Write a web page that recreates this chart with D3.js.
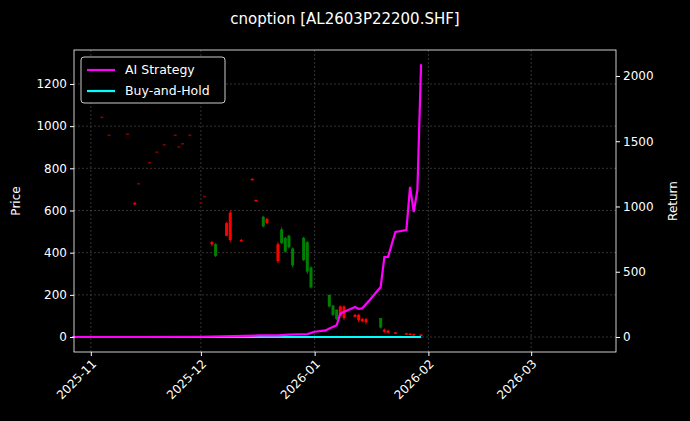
<!DOCTYPE html>
<html><head><meta charset="utf-8">
<script src="https://cdn.jsdelivr.net/npm/d3@7"></script>
<style>
body { margin: 0; background: #000; }
text { font-family: "DejaVu Sans", sans-serif; }
</style></head>
<body><div id="chart"></div>
<script>
const W = 690, H = 421
const m = { left: 74, right: 74, top: 50, bottom: 69 }

// candles: date, open, high, low, close
const candleDates = ['2025-11-04','2025-11-06','2025-11-11','2025-11-13','2025-11-14','2025-11-17','2025-11-19','2025-11-21','2025-11-24','2025-11-25','2025-11-26','2025-11-28','2025-12-01','2025-12-02','2025-12-04','2025-12-05','2025-12-08','2025-12-09','2025-12-12','2025-12-15','2025-12-16','2025-12-18','2025-12-19','2025-12-22','2025-12-23','2025-12-24','2025-12-25','2025-12-26','2025-12-29','2025-12-30','2025-12-31','2026-01-05','2026-01-06','2026-01-07','2026-01-08','2026-01-09','2026-01-12','2026-01-13','2026-01-14','2026-01-15','2026-01-19','2026-01-20','2026-01-21','2026-01-23','2026-01-26','2026-01-27','2026-01-28','2026-01-30']
const candleOpen  = [1045,960,965,635,730,830,880,915,960,905,920,960,640,670,440,440,480,460,460,750,650,570,540,360,510,470,480,420,470,450,330,200,150,130,100,90,95,80,75,70,90,25,20,18,12,10,8,6]
const candleHigh  = [1045,960,965,640,730,830,880,915,960,905,920,960,640,670,455,445,545,600,465,752,652,575,565,450,520,475,485,425,475,455,335,200,150,130,150,150,110,110,90,90,90,40,35,24,20,18,16,14]
const candleLow   = [1045,960,965,630,730,830,880,915,960,905,920,960,640,670,430,380,480,450,455,748,648,520,535,350,440,400,420,330,360,300,230,140,100,80,100,80,95,70,70,60,40,20,20,18,12,10,8,6]
const candleClose = [1045,960,965,635,730,830,880,915,960,905,920,960,640,670,450,385,540,590,460,750,650,525,560,440,445,405,425,340,365,310,235,145,105,85,145,145,105,105,85,85,45,35,30,22,18,16,14,12]

// strategy returns
const retDates = ['2025-10-27','2025-11-15','2025-12-01','2025-12-10','2025-12-17','2025-12-22','2025-12-25','2025-12-30','2026-01-01','2026-01-04','2026-01-05','2026-01-07','2026-01-08','2026-01-12','2026-01-13','2026-01-14','2026-01-16','2026-01-19','2026-01-20','2026-01-21','2026-01-23','2026-01-26','2026-01-27','2026-01-28','2026-01-29','2026-01-30']
const aiReturn  = [0,0,2,6,12,12,18,22,40,50,65,90,180,230,215,220,283,383,613,613,805,820,1150,958,1126,2090]
const bhDates = ['2025-10-27','2026-01-30']
const bhReturn = [0,0]

const priceTicks = [0,200,400,600,800,1000,1200]
const returnTicks = [0,500,1000,1500,2000]
const dateTicks = ['2025-11-01','2025-12-01','2026-01-01','2026-02-01','2026-03-01']

const parse = d3.timeParse('%Y-%m-%d')
const iw = W - m.left - m.right, ih = H - m.top - m.bottom

const svg = d3.select('#chart').append('svg').attr('width', W).attr('height', H)
svg.append('rect').attr('width', W).attr('height', H).attr('fill', '#000')
const g = svg.append('g').attr('transform', `translate(${m.left},${m.top})`)

const x = d3.scaleTime().domain([new Date(2025, 9, 27, 10), new Date(2026, 2, 24, 3)]).range([0, iw])
const y = d3.scaleLinear().domain([-71, 1361]).range([ih, 0])
const y2 = d3.scaleLinear().domain([-115, 2199]).range([ih, 0])

// grid
g.append('g').selectAll('line').data(dateTicks).join('line')
  .attr('x1', d => x(parse(d))).attr('x2', d => x(parse(d))).attr('y1', 0).attr('y2', ih)
  .attr('stroke', '#555').attr('stroke-dasharray', '2,2').attr('stroke-width', 0.6)
g.append('g').selectAll('line').data(priceTicks).join('line')
  .attr('x1', 0).attr('x2', iw).attr('y1', d => y(d)).attr('y2', d => y(d))
  .attr('stroke', '#555').attr('stroke-dasharray', '2,2').attr('stroke-width', 0.6)

// candles
const candles = candleDates.map((d, i) => ({ date: parse(d), o: candleOpen[i], h: candleHigh[i], l: candleLow[i], c: candleClose[i] }))
const cg = g.append('g')
candles.forEach(d => {
  const flat = d.o === d.c && d.h === d.l
  const col = flat ? '#8b0000' : (d.c >= d.o ? 'red' : 'green')
  const cx = x(d.date)
  cg.append('line').attr('x1', cx).attr('x2', cx).attr('y1', y(d.h)).attr('y2', y(d.l))
    .attr('stroke', col).attr('stroke-width', 1)
  const top = y(Math.max(d.o, d.c)), bot = y(Math.min(d.o, d.c))
  cg.append('rect').attr('x', cx - 1.5).attr('width', 3)
    .attr('y', top).attr('height', Math.max(1.5, bot - top)).attr('fill', col)
})

// lines
const line = d3.line().x(d => x(d[0])).y(d => y2(d[1]))
g.append('path').datum(bhDates.map((d, i) => [parse(d), bhReturn[i]]))
  .attr('d', line).attr('fill', 'none').attr('stroke', '#00ffff').attr('stroke-width', 2.2)
g.append('path').datum(retDates.map((d, i) => [parse(d), aiReturn[i]]))
  .attr('d', line).attr('fill', 'none').attr('stroke', '#ff00ff').attr('stroke-width', 2.2)

// frame
g.append('rect').attr('width', iw).attr('height', ih).attr('fill', 'none').attr('stroke', '#fff').attr('stroke-width', 0.8)

// axes
const ax = g.append('g').attr('transform', `translate(0,${ih})`)
  .call(d3.axisBottom(x).tickValues(dateTicks.map(parse)).tickFormat(d3.timeFormat('%Y-%m')).tickSize(4))
ax.selectAll('text').attr('transform', 'rotate(-45)').attr('text-anchor', 'end')
  .attr('dx', '-0.4em').attr('dy', '0.5em')
const ay = g.append('g').call(d3.axisLeft(y).tickValues(priceTicks).tickFormat(d3.format('d')).tickSize(4))
const ay2 = g.append('g').attr('transform', `translate(${iw},0)`)
  .call(d3.axisRight(y2).tickValues(returnTicks).tickFormat(d3.format('d')).tickSize(4))
;[ax, ay, ay2].forEach(a => {
  a.select('.domain').remove()
  a.selectAll('line').attr('stroke', '#fff')
  a.selectAll('text').attr('fill', '#fff').style('font-size', '12px')
})

svg.append('text').attr('x', 16).attr('y', m.top + ih / 2).attr('transform', `rotate(-90,16,${m.top + ih / 2})`)
  .attr('text-anchor', 'middle').attr('dy', '0.35em').attr('fill', '#fff').style('font-size', '12px').text('Price')
svg.append('text').attr('x', 673).attr('y', m.top + ih / 2).attr('transform', `rotate(-90,673,${m.top + ih / 2})`)
  .attr('text-anchor', 'middle').attr('dy', '0.35em').attr('fill', '#fff').style('font-size', '12px').text('Return')
svg.append('text').attr('x', 345).attr('y', 24).attr('text-anchor', 'middle').attr('fill', '#fff')
  .style('font-size', '15px').text('cnoption [AL2603P22200.SHF]')

// legend
const lg = svg.append('g').attr('transform', 'translate(81,57)')
lg.append('rect').attr('width', 144).attr('height', 46).attr('rx', 3).attr('fill', '#000').attr('stroke', '#ccc')
;[['AI Strategy', '#ff00ff'], ['Buy-and-Hold', '#00ffff']].forEach(([t, c], i) => {
  lg.append('line').attr('x1', 6).attr('x2', 34).attr('y1', 13 + i * 21).attr('y2', 13 + i * 21).attr('stroke', c).attr('stroke-width', 2.2)
  lg.append('text').attr('x', 44).attr('y', 13 + i * 21).attr('dy', '0.35em').attr('fill', '#fff').style('font-size', '12.5px').text(t)
})
</script></body></html>
